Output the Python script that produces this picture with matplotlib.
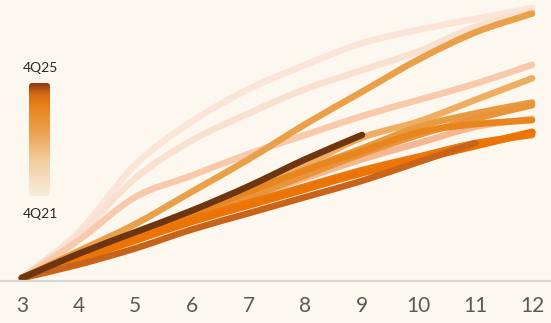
import numpy as np
import matplotlib.pyplot as plt
from matplotlib.colors import LinearSegmentedColormap
from matplotlib.patches import FancyBboxPatch, PathPatch
from matplotlib.path import Path

# Months on book (x) and cumulative share (%) per cohort, oldest first
months = [3, 4, 5, 6, 7, 8, 9, 10, 11, 12]

cohort_a = [0, 17, 42, 58, 70, 79, 87, 92, 96, 100]
cohort_b = [0, 16, 37, 51, 61, 70, 77, 84, 93, 99]
cohort_c = [0, 14, 30, 38, 46, 53, 60, 66, 72, 79]
cohort_d = [0, 7, 15, 22, 30, 37, 44, 50, 56, 59]
cohort_e = [0, 8, 16, 24, 33, 42, 52, 58, 66, 74]
cohort_f = [0, 10, 20, 32, 44, 57, 69, 81, 91, 98]
cohort_g = [0, 8, 16, 23, 31, 40, 48, 56, 61, 65]
cohort_h = [0, 8, 15, 23, 30, 38, 46, 53, 59, 64]
cohort_i = [0, 9, 16, 24, 32, 40, 47, 54, 57, 58.5]
cohort_j = [0, 8, 15, 22, 28, 34, 40, 45, 50, 53]
cohort_k = [0, 7, 14, 21, 27, 33, 39, 44, 49, 54]
cohort_l = [0, 5, 11, 18, 24, 30, 36, 43, 50]
cohort_m = [0, 9, 17, 25, 34, 44, 53]

series = [cohort_a, cohort_b, cohort_c, cohort_d, cohort_e, cohort_f, cohort_g,
          cohort_h, cohort_i, cohort_j, cohort_k, cohort_l, cohort_m]

line_colors = ['#fae5d8', '#f9e1d2', '#f8caab', '#f4b790', '#efad62', '#e9a049',
               '#e89a3e', '#e9933a', '#e8861d', '#ea7a10', '#ec7404', '#c8631a',
               '#6e3510']

bar_label_top = '4Q25'
bar_label_bottom = '4Q21'

bg = '#fcf7ef'
W, H = 551, 323


def smooth_path(xs, ys):
    # cubic Bezier through the points with central-difference tangents
    xs = np.asarray(xs, float)
    ys = np.asarray(ys, float)
    n = len(xs)
    m = np.zeros(n)
    for i in range(n):
        if i == 0:
            m[i] = (ys[1] - ys[0]) / (xs[1] - xs[0])
        elif i == n - 1:
            m[i] = (ys[-1] - ys[-2]) / (xs[-1] - xs[-2])
        else:
            m[i] = (ys[i + 1] - ys[i - 1]) / (xs[i + 1] - xs[i - 1])
    verts = [(xs[0], ys[0])]
    codes = [Path.MOVETO]
    for i in range(n - 1):
        h = xs[i + 1] - xs[i]
        verts += [(xs[i] + h / 3, ys[i] + m[i] * h / 3),
                  (xs[i + 1] - h / 3, ys[i + 1] - m[i + 1] * h / 3),
                  (xs[i + 1], ys[i + 1])]
        codes += [Path.CURVE4] * 3
    return Path(verts, codes)


fig = plt.figure(figsize=(W / 100, H / 100), dpi=100, facecolor=bg)

# plot area: x=3 sits at 22px, 56.67px per month; baseline at 281px
px_per_month = 56.67
x0 = 3 - 22 / px_per_month
x1 = 3 + (W - 22) / px_per_month
ax = fig.add_axes([0, (H - 281) / H, 1, 281 / H])
ax.set_facecolor(bg)
ax.set_xlim(x0, x1)
ax.set_ylim(-1.1, 103)

for vals, col in zip(series, line_colors):
    lw = 5.4 if col == '#ec7404' else 4.7
    ax.add_patch(PathPatch(smooth_path(months[:len(vals)], vals), fill=False,
                           edgecolor=col, lw=lw, capstyle='round',
                           joinstyle='round'))

for s in ['top', 'right', 'left']:
    ax.spines[s].set_visible(False)
ax.spines['bottom'].set_color('#d8d5d2')
ax.spines['bottom'].set_linewidth(1.6)
ax.set_yticks([])
ax.set_xticks(months)
ax.set_xticklabels([str(m) for m in months])
ax.tick_params(axis='x', length=0, pad=11, labelsize=15, labelcolor='#5a5a5a')
for lab in ax.get_xticklabels():
    lab.set_fontfamily('Lato')

# cohort colour scale on the left
cmap = LinearSegmentedColormap.from_list(
    'cohort', [(0.0, '#f9ecdc'), (0.3, '#f3cfa2'), (0.55, '#eba455'),
               (0.8, '#e8821a'), (0.9, '#d86c16'), (1.0, '#8b3a12')])
cax = fig.add_axes([29 / W, (H - 196) / H, 21 / W, 113 / H])
cax.set_xlim(0, 1)
cax.set_ylim(0, 1)
cax.axis('off')
grad = np.linspace(0, 1, 256).reshape(-1, 1)
im = cax.imshow(grad, cmap=cmap, origin='lower', aspect='auto',
                extent=[0, 1, 0, 1], interpolation='bilinear')
clip = FancyBboxPatch((0, 0), 1, 1, boxstyle='round,pad=0,rounding_size=0.14',
                      mutation_aspect=21 / 113, transform=cax.transData,
                      facecolor='none', edgecolor='none')
cax.add_patch(clip)
im.set_clip_path(clip)

fig.text(40 / W, 1 - 68 / H, bar_label_top, ha='center', va='center',
         fontsize=10, color='#2a2a2a', family='Lato')
fig.text(40 / W, 1 - 214 / H, bar_label_bottom, ha='center', va='center',
         fontsize=10, color='#2a2a2a', family='Lato')

fig.savefig('out.png', dpi=100, facecolor=bg)
